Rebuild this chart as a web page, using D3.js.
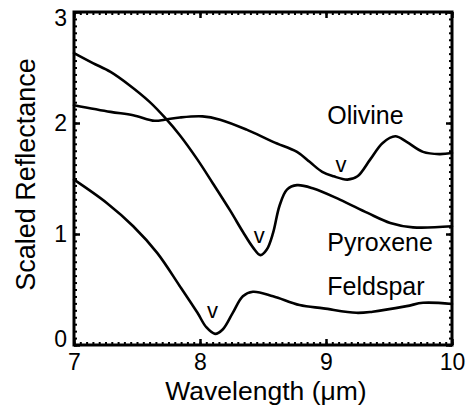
<!DOCTYPE html>
<html>
<head>
<meta charset="utf-8">
<script src="https://cdn.jsdelivr.net/npm/d3@7"></script>
<style>
  html, body { margin: 0; padding: 0; background: #fff; }
  svg { display: block; font-family: "Liberation Sans", Arial, Helvetica, sans-serif; }
</style>
</head>
<body>
<svg id="chart" width="469" height="414"></svg>
<script>
// Mid-infrared spectra of three minerals (scaled reflectance vs wavelength)
const olivineX = [7.00, 7.29, 7.47, 7.64, 7.72, 7.84, 8.02, 8.16, 8.37, 8.58, 8.77, 8.87, 8.97, 9.06, 9.17, 9.25, 9.35, 9.45, 9.55, 9.64, 9.77, 9.90, 10.0];
const olivineY = [2.16, 2.10, 2.07, 2.02, 2.03, 2.05, 2.06, 2.03, 1.94, 1.83, 1.74, 1.65, 1.56, 1.52, 1.49, 1.52, 1.67, 1.82, 1.88, 1.83, 1.74, 1.72, 1.73];

const pyroxeneX = [7.00, 7.15, 7.29, 7.44, 7.60, 7.72, 7.84, 7.98, 8.10, 8.24, 8.34, 8.42, 8.48, 8.53, 8.58, 8.63, 8.69, 8.77, 8.90, 9.11, 9.33, 9.51, 9.69, 10.0];
const pyroxeneY = [2.63, 2.54, 2.46, 2.34, 2.19, 2.05, 1.89, 1.67, 1.46, 1.21, 1.02, 0.88, 0.81, 0.86, 1.01, 1.25, 1.40, 1.44, 1.41, 1.31, 1.19, 1.10, 1.06, 1.07];

const feldsparX = [7.00, 7.26, 7.47, 7.66, 7.84, 7.98, 8.05, 8.12, 8.18, 8.26, 8.34, 8.42, 8.58, 8.79, 8.98, 9.24, 9.37, 9.64, 9.77, 10.0];
const feldsparY = [1.49, 1.28, 1.07, 0.83, 0.53, 0.29, 0.16, 0.10, 0.14, 0.29, 0.44, 0.48, 0.44, 0.36, 0.33, 0.29, 0.30, 0.35, 0.38, 0.37];

// Mineral names and their anchor points
const names = ["Olivine", "Pyroxene", "Feldspar"];
const nameX = [9.01, 9.01, 9.01];
const nameY = [1.99, 0.85, 0.45];

// "v" markers at the band minima
const markX = [9.12, 8.47, 8.10];
const markY = [1.56, 0.92, 0.24];

const xTicks = [7, 8, 9, 10];
const yTicks = [0, 1, 2, 3];
const xMinor = d3.range(7, 10.0001, 0.05);
const yMinor = d3.range(0, 3.0001, 0.0625);

const svg = d3.select("#chart");
const plotL = 74, plotR = 452, plotT = 12, plotB = 345;

const x = d3.scaleLinear().domain([7, 10]).range([plotL, plotR]);
const y = d3.scaleLinear().domain([0, 3]).range([plotB, plotT]);

const fmt = d3.format("d");

// Minor ticks on all four sides
function minorAxis(axis, tr) {
  svg.append("g").attr("transform", tr).call(axis.tickSizeInner(-3).tickSizeOuter(0).tickFormat(""))
    .call(g => g.select(".domain").remove())
    .call(g => g.selectAll("line").attr("stroke", "#000").attr("stroke-width", 2));
}
minorAxis(d3.axisBottom(x).tickValues(xMinor), `translate(0,${plotB})`);
minorAxis(d3.axisTop(x).tickValues(xMinor), `translate(0,${plotT})`);
minorAxis(d3.axisLeft(y).tickValues(yMinor), `translate(${plotL},0)`);
minorAxis(d3.axisRight(y).tickValues(yMinor), `translate(${plotR},0)`);

// Major ticks
function majorAxis(axis, tr, labels, pad) {
  const g = svg.append("g").attr("transform", tr)
    .call(axis.tickSizeInner(-6).tickSizeOuter(0).tickPadding(pad).tickFormat(labels ? fmt : ""));
  g.select(".domain").remove();
  g.selectAll("line").attr("stroke", "#000").attr("stroke-width", 2.5);
  g.selectAll("text").attr("fill", "#000").style("font-size", "23px")
    .style("font-family", "'Liberation Sans', Arial, sans-serif");
  return g;
}
majorAxis(d3.axisBottom(x).tickValues(xTicks), `translate(0,${plotB})`, true, 9);
majorAxis(d3.axisTop(x).tickValues(xTicks), `translate(0,${plotT})`, false, 0);
const yg = majorAxis(d3.axisLeft(y).tickValues(yTicks), `translate(${plotL},0)`, true, 7);
majorAxis(d3.axisRight(y).tickValues(yTicks), `translate(${plotR},0)`, false, 0);

// End labels on the value axis sit just inside the frame
yg.selectAll(".tick text").attr("dy", d => d === 3 ? "0.6em" : d === 0 ? "0.08em" : "0.32em");

// Frame
svg.append("rect")
  .attr("x", plotL).attr("y", plotT)
  .attr("width", plotR - plotL).attr("height", plotB - plotT)
  .attr("fill", "none").attr("stroke", "#000").attr("stroke-width", 3);

// Spectra
const line = d3.line()
  .x(d => x(d[0])).y(d => y(d[1]))
  .curve(d3.curveCatmullRom.alpha(0.5));

[[olivineX, olivineY], [pyroxeneX, pyroxeneY], [feldsparX, feldsparY]].forEach(([xs, ys]) => {
  svg.append("path")
    .datum(xs.map((v, i) => [v, ys[i]]))
    .attr("d", line)
    .attr("fill", "none").attr("stroke", "#000").attr("stroke-width", 2.6)
    .attr("stroke-linejoin", "round").attr("stroke-linecap", "round");
});

// Mineral names
svg.append("g").selectAll("text").data(names).join("text")
  .attr("x", (d, i) => x(nameX[i]))
  .attr("y", (d, i) => y(nameY[i]))
  .style("font-size", "25px")
  .attr("fill", "#000")
  .text(d => d);

// Band-minimum markers
svg.append("g").selectAll("text").data(markX).join("text")
  .attr("x", d => x(d))
  .attr("y", (d, i) => y(markY[i]))
  .attr("text-anchor", "middle")
  .style("font-size", "22px")
  .attr("fill", "#000")
  .text("v");

// Axis titles
svg.append("text")
  .attr("x", (plotL + plotR) / 2 + 3).attr("y", 400)
  .attr("text-anchor", "middle").style("font-size", "26.5px")
  .text("Wavelength (\u03bcm)");

svg.append("text")
  .attr("transform", `translate(35,${(plotT + plotB) / 2 - 4}) rotate(-90)`)
  .attr("text-anchor", "middle").style("font-size", "27px")
  .text("Scaled Reflectance");
</script>
</body>
</html>
